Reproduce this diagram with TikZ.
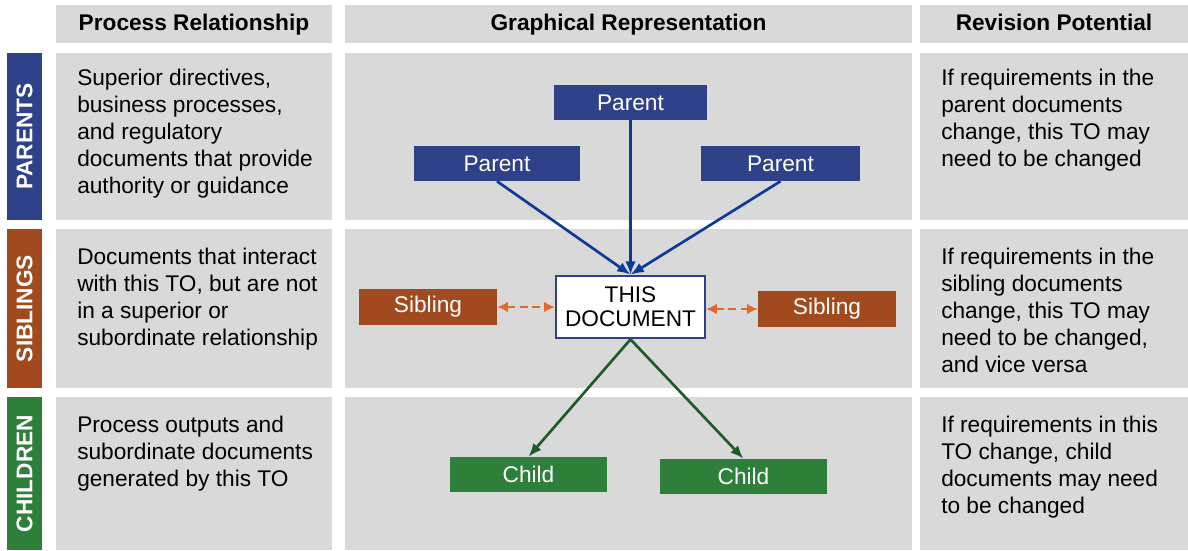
\documentclass[tikz,border=0pt]{standalone}
\usepackage{fontspec}
\setmainfont{Liberation Sans}
\usetikzlibrary{arrows.meta, positioning}
\definecolor{parentblue}{HTML}{2E4189}
\definecolor{arrowblue}{HTML}{0B3A98}
\definecolor{siblingbrown}{HTML}{A14A1F}
\definecolor{siblingorange}{HTML}{E0692D}
\definecolor{childgreen}{HTML}{2E7F39}
\definecolor{arrowgreen}{HTML}{1D5B27}
\definecolor{panelgray}{HTML}{D9D9D9}

\begin{document}
\begin{tikzpicture}[
    x=0.75pt, y=-0.75pt,
    >=Latex,
    every node/.style={font=\fontsize{17}{20.25}\selectfont},
    panel/.style={fill=panelgray},
    head/.style={
        fill=panelgray,
        minimum height=28.5pt,
        text height=12.5pt,
        text depth=3.5pt,
        inner sep=0pt,
        font=\fontsize{17}{20.25}\selectfont\bfseries
    },
    band/.style={
        rotate=90,
        minimum height=26.25pt,
        inner sep=0pt,
        text=white,
        font=\fontsize{17}{20.25}\selectfont\bfseries
    },
    desc/.style={
        anchor=north west,
        align=left,
        inner sep=0pt
    },
    docbox/.style={
        rectangle,
        minimum height=26.25pt,
        inner sep=0pt,
        align=center,
        text=white
    },
    parentarrow/.style={
        -{Latex[length=10pt, width=8pt]},
        line width=2pt,
        draw=arrowblue
    },
    childarrow/.style={
        -{Latex[length=10pt, width=8pt]},
        line width=2pt,
        draw=arrowgreen
    },
    sibarrow/.style={
        {Latex[length=8pt, width=8pt]}-{Latex[length=8pt, width=8pt]},
        dash pattern=on 6pt off 3.5pt,
        line width=2pt,
        draw=siblingorange
    }
]
\useasboundingbox (0,0) rectangle (1188,550);
% column headers
\node[head, minimum width=207pt] (prochead) at (194,24) {Process Relationship};
\node[head, minimum width=425.25pt] (graphead) at (628.5,24) {Graphical Representation};
\node[head, minimum width=201pt] (revhead) at (1054,24) {Revision Potential};
% row panels
\foreach \ya/\yb in {53/220, 229/388, 397/550} {
    \fill[panel] (56,\ya) rectangle (332,\yb);
    \fill[panel] (345,\ya) rectangle (912,\yb);
    \fill[panel] (920,\ya) rectangle (1188,\yb);
}
% row bands
\node[band, fill=parentblue, minimum width=125.25pt] (parents) at (24.5,136.5) {PARENTS};
\node[band, fill=siblingbrown, minimum width=119.25pt] (siblings) at (24.5,308.5) {SIBLINGS};
\node[band, fill=childgreen, minimum width=114.75pt] (children) at (24.5,473.5) {CHILDREN};
% process relationship
\node[desc] (parentsdesc) at (77,69) {Superior directives,\\business processes,\\and regulatory\\documents that provide\\authority or guidance};
\node[desc] (siblingsdesc) at (77,248) {Documents that interact\\with this TO, but are not\\in a superior or\\subordinate relationship};
\node[desc] (childrendesc) at (77,416) {Process outputs and\\subordinate documents\\generated by this TO};
% revision potential
\node[desc] (parentsrev) at (941,69) {If requirements in the\\parent documents\\change, this TO may\\need to be changed};
\node[desc] (siblingsrev) at (941,248) {If requirements in the\\sibling documents\\change, this TO may\\need to be changed,\\and vice versa};
\node[desc] (childrenrev) at (941,416) {If requirements in this\\TO change, child\\documents may need\\to be changed};
% graphical representation
\node[docbox, fill=parentblue, minimum width=114.75pt] (parenttop) at (630.5,102.5) {Parent};
\node[docbox, fill=parentblue, minimum width=124.5pt] (parentleft) at (497,163.5) {Parent};
\node[docbox, fill=parentblue, minimum width=119.25pt] (parentright) at (780.5,163.5) {Parent};
\node[docbox, fill=white, draw=parentblue, line width=1.5pt, text=black,
      minimum width=112pt, minimum height=47pt] (thisdoc) at (630.5,307) {THIS\\[-2pt]DOCUMENT};
\node[docbox, fill=siblingbrown, minimum width=103.5pt, minimum height=27pt] (siblingleft) at (428,307) {Sibling};
\node[docbox, fill=siblingbrown, minimum width=103.5pt, minimum height=27pt] (siblingright) at (827,309) {Sibling};
\node[docbox, fill=childgreen, minimum width=117.75pt] (childleft) at (528.5,474.5) {Child};
\node[docbox, fill=childgreen, minimum width=125.25pt] (childright) at (743.5,476.5) {Child};
\draw[parentarrow] (parentleft.south) -- (thisdoc.north);
\draw[parentarrow] (parenttop.south) -- (thisdoc.north);
\draw[parentarrow] (parentright.south) -- (thisdoc.north);
\draw[sibarrow] (siblingleft.east) -- (thisdoc.west);
\draw[sibarrow] (thisdoc.east |- siblingright.west) -- (siblingright.west);
\draw[childarrow] (thisdoc.south) -- (childleft.north);
\draw[childarrow] (thisdoc.south) -- (childright.north);
\end{tikzpicture}
\end{document}
